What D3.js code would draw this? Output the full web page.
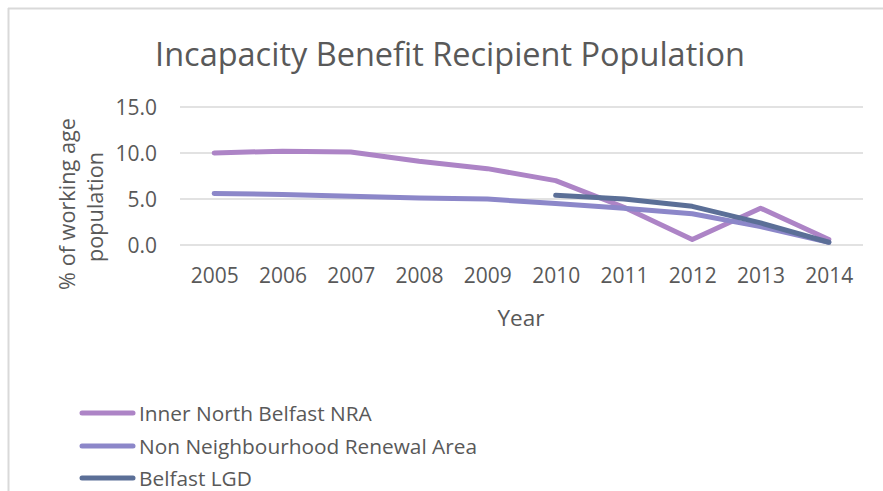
<!DOCTYPE html>
<html><head><meta charset="utf-8">
<script src="https://cdn.jsdelivr.net/npm/d3@7"></script>
<style>
html,body{margin:0;padding:0;background:#fff;}
svg text{font-family:"Open Sans",sans-serif;fill:#595959;}
</style></head><body>
<svg id="c" width="883" height="491"></svg>
<script>
const years = ["2005","2006","2007","2008","2009","2010","2011","2012","2013","2014"];
const innerNorthNRA = [10.0,10.2,10.1,9.1,8.3,7.0,4.1,0.6,4.0,0.6];
const nonNRA = [5.6,5.5,5.3,5.1,5.0,4.5,4.0,3.4,2.0,0.3];
const belfastLGD = [null,null,null,null,null,5.4,5.0,4.2,2.4,0.3];
const yTicks = [0,5,10,15];
const seriesNames = ["Inner North Belfast NRA","Non Neighbourhood Renewal Area","Belfast LGD"];
const seriesColors = ["#AD84C6","#8C87C9","#5B6F97"];
const seriesValues = [innerNorthNRA, nonNRA, belfastLGD];

const svg = d3.select("#c");

function fit(sel, w){
  const n = sel.node(); const cur = parseFloat(sel.style("font-size"));
  const len = n.getComputedTextLength();
  const s = cur*w/len;
  sel.style("font-size", s+"px");
  return s;
}

// border
svg.append("line").attr("x1",8).attr("x2",883).attr("y1",8.5).attr("y2",8.5).attr("stroke","#D9D9D9").attr("stroke-width",2);
svg.append("line").attr("x1",8.5).attr("x2",8.5).attr("y1",8).attr("y2",491).attr("stroke","#D9D9D9").attr("stroke-width",2);

const x = d3.scalePoint().domain(years).range([180,863]).padding(0.5);
const y = d3.scaleLinear().domain([0,15]).range([245,107]);

// gridlines
svg.append("g").selectAll("line").data(yTicks).join("line")
  .attr("x1",180).attr("x2",863)
  .attr("y1",d=>y(d)).attr("y2",d=>y(d))
  .attr("stroke","#D9D9D9").attr("stroke-width",1.5);

// x axis
const xa = svg.append("g").attr("transform","translate(0,276)")
  .call(d3.axisBottom(x).tickSize(0).tickPadding(0));
xa.select(".domain").remove();
xa.selectAll("text").style("font-size","19px").attr("dy","0.35em").style("font-family","'Open Sans',sans-serif").attr("fill","#595959");
const tickSize = fit(xa.select("text"), 48);
xa.selectAll("text").style("font-size", tickSize+"px");

// y axis
const ya = svg.append("g").attr("transform","translate(157,0)")
  .call(d3.axisLeft(y).tickValues(yTicks).tickFormat(d3.format(".1f")).tickSize(0).tickPadding(0));
ya.select(".domain").remove();
ya.selectAll("text").style("font-size",tickSize+"px").attr("dy","0.35em").style("font-family","'Open Sans',sans-serif").attr("fill","#595959");

// lines
const line = d3.line().defined(d=>d.v!=null).x(d=>x(d.k)).y(d=>y(d.v));
seriesValues.forEach((vals,i)=>{
  svg.append("path")
    .datum(vals.map((v,j)=>({k:years[j],v})))
    .attr("d",line).attr("fill","none")
    .attr("stroke",seriesColors[i]).attr("stroke-width",5)
    .attr("stroke-linecap","round").attr("stroke-linejoin","round");
});

// title
const t = svg.append("text").attr("x",450).attr("y",53).attr("text-anchor","middle")
  .attr("dominant-baseline","central").style("font-size","30px").text("Incapacity Benefit Recipient Population");
fit(t,590);

// y title
const yt1 = svg.append("text").attr("transform","translate(66,204) rotate(-90)").attr("text-anchor","middle")
  .attr("dominant-baseline","central").style("font-size","20px").text("% of working age");
const ys = fit(yt1,172);
svg.append("text").attr("transform","translate(94,207) rotate(-90)").attr("text-anchor","middle")
  .attr("dominant-baseline","central").style("font-size",ys+"px").text("population");

// x title
const xt = svg.append("text").attr("x",521).attr("y",317).attr("text-anchor","middle").attr("dominant-baseline","central")
  .style("font-size","20px").text("Year");
fit(xt,47);

// legend
const ly = [413,446,478];
let lsize = 19;
seriesNames.forEach((n,i)=>{
  svg.append("line").attr("x1",82).attr("x2",133).attr("y1",ly[i]).attr("y2",ly[i])
    .attr("stroke",seriesColors[i]).attr("stroke-width",5).attr("stroke-linecap","round");
  const tx = svg.append("text").attr("x",139).attr("y",ly[i]).attr("dominant-baseline","central")
    .style("font-size",lsize+"px").text(n);
  if(i===0) lsize = fit(tx,233);
});
</script>
</body></html>
